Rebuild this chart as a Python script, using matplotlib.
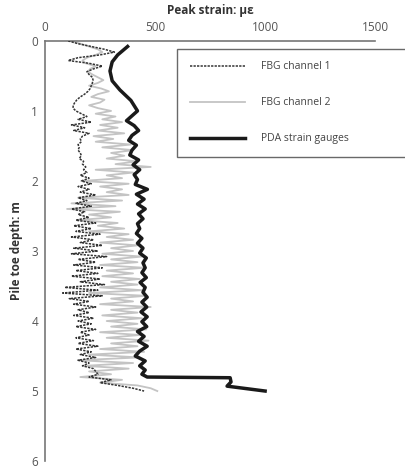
import numpy as np
import matplotlib
matplotlib.use("Agg")
import matplotlib.pyplot as plt

plt.rcParams['font.family'] = ['Open Sans', 'DejaVu Sans']

# FBG readings sampled every 0.04 m from 0 to 5.0 m
fbg_depth = np.linspace(0.0, 5.0, 126)

fbg_ch1 = [105, 150, 210, 270, 315, 250, 150, 105, 200, 260,
           220, 190, 200, 215, 218, 215, 210, 205, 195, 180,
           160, 145, 135, 128, 127, 140, 165, 190, 150, 210,
           120, 180, 130, 200, 170, 160, 165, 150, 155, 150,
           160, 165, 155, 175, 170, 185, 175, 190, 160, 200,
           165, 210, 150, 200, 160, 230, 150, 190, 140, 210,
           120, 180, 150, 200, 140, 230, 130, 210, 140, 250,
           120, 220, 160, 260, 130, 240, 120, 280, 150, 230,
           130, 260, 140, 240, 120, 250, 160, 270, 90, 240,
           80, 260, 110, 200, 130, 230, 150, 200, 130, 220,
           150, 210, 140, 230, 160, 200, 140, 220, 150, 240,
           140, 210, 160, 230, 150, 200, 170, 220, 230, 240,
           200, 300, 250, 330, 400, 450]

fbg_ch2 = [120, 160, 200, 240, 260, 230, 190, 170, 185, 230,
           205, 195, 215, 240, 265, 240, 200, 255, 290, 240,
           210, 270, 250, 200, 240, 300, 230, 320, 260, 350,
           250, 330, 240, 360, 220, 310, 230, 390, 260, 400,
           300, 360, 280, 420, 320, 480, 230, 400, 280, 350,
           170, 380, 250, 350, 280, 380, 150, 350, 120, 320,
           100, 340, 200, 300, 150, 330, 240, 360, 200, 380,
           280, 400, 250, 420, 300, 400, 260, 440, 300, 420,
           250, 450, 280, 400, 260, 430, 300, 420, 250, 440,
           200, 460, 300, 400, 250, 480, 300, 420, 260, 440,
           280, 420, 300, 460, 250, 430, 280, 470, 300, 420,
           250, 450, 200, 430, 150, 400, 180, 380, 200, 300,
           160, 350, 250, 420, 480, 510]

pda_depth = [0.08, 0.2, 0.3, 0.43, 0.57, 0.7, 0.85, 1.0, 1.07, 1.14,
             1.21, 1.28, 1.35, 1.42, 1.49, 1.56, 1.63, 1.70, 1.77, 1.84,
             1.91, 1.98, 2.05, 2.12, 2.19, 2.26, 2.33, 2.40, 2.47, 2.54,
             2.61, 2.68, 2.75, 2.82, 2.89, 2.96, 3.03, 3.10, 3.17, 3.24,
             3.31, 3.38, 3.45, 3.52, 3.59, 3.66, 3.73, 3.80, 3.87, 3.94,
             4.01, 4.08, 4.15, 4.22, 4.29, 4.36, 4.43, 4.50, 4.57, 4.64,
             4.70, 4.76, 4.80, 4.81, 4.87, 4.93, 5.0]
pda_strain = [375, 330, 305, 295, 305, 340, 390, 420, 395, 370,
              405, 425, 395, 380, 415, 395, 385, 425, 400, 430,
              405, 420, 410, 465, 415, 450, 420, 455, 425, 445,
              420, 430, 415, 440, 420, 445, 430, 460, 445, 455,
              440, 460, 432, 455, 445, 464, 440, 462, 436, 464,
              440, 462, 420, 450, 425, 464, 430, 410, 455, 430,
              455, 440, 464, 841, 845, 827, 1000]

fig = plt.figure(figsize=(4.06, 4.70), dpi=100)
ax = fig.add_axes([0.111, 0.019, 0.813, 0.894])

ax.plot(fbg_ch2, fbg_depth, color='#c4c4c4', lw=1.3, label='FBG channel 2', zorder=2)
ax.plot(fbg_ch1, fbg_depth, color='#333333', lw=1.1, linestyle=(0, (1.5, 0.8)),
        label='FBG channel 1', zorder=3)
ax.plot(pda_strain, pda_depth, color='#1a1a1a', lw=2.5, label='PDA strain gauges',
        zorder=4, solid_joinstyle='round')

ax.set_xlim(0, 1500)
ax.set_ylim(6, 0)
ax.set_xticks([0, 500, 1000, 1500])
ax.set_yticks([0, 1, 2, 3, 4, 5, 6])
ax.xaxis.tick_top()
ax.xaxis.set_label_position('top')
ax.tick_params(length=0, labelsize=8.5, colors='#555555', pad=5)
for s in ['right', 'bottom']:
    ax.spines[s].set_visible(False)
for s in ['left', 'top']:
    ax.spines[s].set_color('#777777')
    ax.spines[s].set_linewidth(1.2)

ax.set_xlabel('Peak strain: με', fontsize=8.5, fontweight='bold', color='#333333', labelpad=5)
ax.set_ylabel('Pile toe depth: m', fontsize=8.5, fontweight='bold', color='#333333', labelpad=6)

h, l = ax.get_legend_handles_labels()
order = [1, 0, 2]
leg = ax.legend([h[i] for i in order], [l[i] for i in order],
                loc='upper left', bbox_to_anchor=(0.4, 0.724, 0.72, 0.257), mode='expand',
                fontsize=7.5, frameon=True, fancybox=False, edgecolor='#444444',
                handlelength=5.3, handletextpad=1.6, labelspacing=2.4,
                borderpad=1.2, borderaxespad=0)
leg.get_frame().set_linewidth(1.0)
for t in leg.get_texts():
    t.set_color('#444444')

fig.savefig('out.png', dpi=100)
